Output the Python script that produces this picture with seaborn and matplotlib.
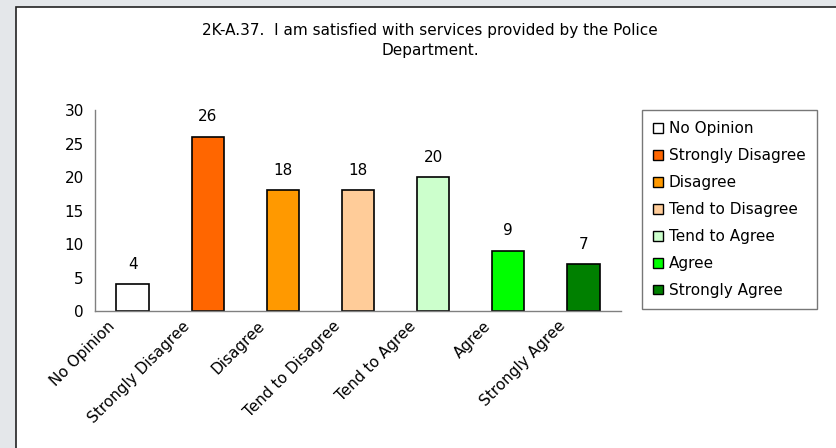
import numpy as np
import pandas as pd
import matplotlib
matplotlib.use("Agg")
import matplotlib.pyplot as plt
import matplotlib.patches as mpatches
import matplotlib.transforms as mtransforms
import seaborn as sns

categories = ["No Opinion", "Strongly Disagree", "Disagree", "Tend to Disagree",
              "Tend to Agree", "Agree", "Strongly Agree"]
counts = [4, 26, 18, 18, 20, 9, 7]
colors = ["#FFFFFF", "#FF6600", "#FF9900", "#FFCC99", "#CCFFCC", "#00FF00", "#008000"]
title = "2K-A.37.  I am satisfied with services provided by the Police\nDepartment."

sns.set_theme(style="white", rc={"text.color": "black", "xtick.labelcolor": "black",
                                 "ytick.labelcolor": "black", "axes.labelcolor": "black"})
plt.rcParams["font.family"] = ["DejaVu Sans"]
FS = 11

df = pd.DataFrame({"cat": categories, "n": counts})

W, H = 837, 448
fig = plt.figure(figsize=(W / 100, H / 100), dpi=100)
fig.patch.set_facecolor("#E4E7EA")
# white chart area with dark border (runs off the right/bottom edges)
fig.add_artist(mpatches.Rectangle((16.5 / W, -0.1), 1.2, 1 - 7.5 / H + 0.1,
                                  transform=fig.transFigure, facecolor="white",
                                  edgecolor="#222222", linewidth=1.2, zorder=0))

ax = fig.add_axes([95 / W, 1 - 311 / H, (621 - 95) / W, (311 - 110) / H])
ax.set_facecolor("none")

sns.barplot(data=df, x="cat", y="n", hue="cat", palette=colors, order=categories,
            hue_order=categories, width=0.43, edgecolor="black", linewidth=1.2,
            legend=False, ax=ax, saturation=1)

for c in ax.containers:
    ax.bar_label(c, padding=9, fontsize=FS, color="black")

ax.set_xlim(-0.5, len(categories) - 0.5)
ax.set_ylim(0, 30)
ax.set_yticks(range(0, 31, 5))
ax.set_xlabel("")
ax.set_ylabel("")

# tick marks between categories, labels at the centres
ax.set_xticks(np.arange(-0.5, len(categories), 1))
ax.set_xticklabels([])
ax.set_xticks(np.arange(len(categories)), minor=True)
ax.set_xticklabels(categories, minor=True, rotation=45, ha="right", va="center",
                   rotation_mode="anchor", fontsize=FS, color="black")
ax.tick_params(axis="x", which="minor", length=0, pad=9)
ax.tick_params(axis="x", which="major", length=5, width=1, color="#808080", direction="out")
ax.tick_params(axis="y", length=5, width=1, color="#808080", direction="out", pad=3,
               labelsize=FS, labelcolor="black")
offset = mtransforms.ScaledTranslation(-20 / 100, 0, fig.dpi_scale_trans)
for lab in ax.get_xticklabels(minor=True):
    lab.set_transform(lab.get_transform() + offset)

for side in ["top", "right"]:
    ax.spines[side].set_visible(False)
for side in ["left", "bottom"]:
    ax.spines[side].set_color("#808080")
    ax.spines[side].set_linewidth(1)

fig.text(430 / W, 1 - 23 / H, title, ha="center", va="top", fontsize=FS,
         linespacing=1.45, color="black")

handles = [mpatches.Patch(facecolor=col, edgecolor="black", linewidth=1, label=cat)
           for col, cat in zip(colors, categories)]
leg = fig.legend(handles=handles, loc="upper left", bbox_to_anchor=(642 / W, 1 - 110 / H),
                 borderaxespad=0, fontsize=FS, frameon=True, fancybox=False,
                 handlelength=0.6, handleheight=0.6, handletextpad=0.4,
                 labelspacing=0.78, borderpad=0.75)
leg.get_frame().set_edgecolor("#555555")
leg.get_frame().set_linewidth(1)
for t in leg.get_texts():
    t.set_color("black")

fig.savefig("out.png", dpi=100, facecolor=fig.get_facecolor())
